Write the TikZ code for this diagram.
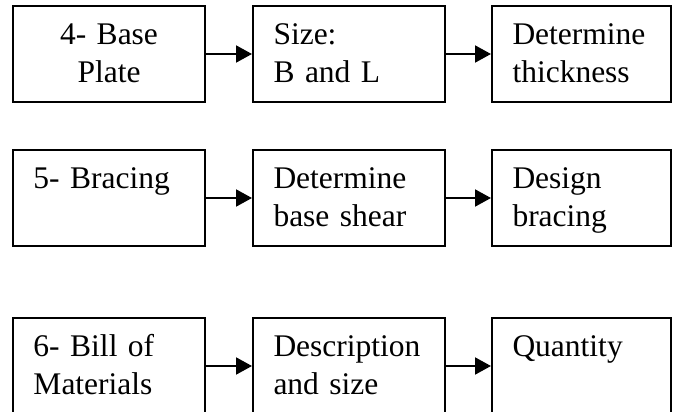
\documentclass[tikz,border=0pt]{standalone}
\usepackage{fontspec}
\setmainfont{Liberation Serif}
\usetikzlibrary{arrows.meta}
\newcommand\tstrut{\rule{0pt}{28.5pt}}
\newcommand\bstrut{\rule[-9.5pt]{0pt}{9.5pt}}
\tikzset{
  box/.style={draw, line width=2pt, rectangle, anchor=north west,
    inner xsep=20.5pt, inner ysep=10pt, text width=151pt, align=left,
    font=\fontsize{31.5}{38}\selectfont},
  narrow/.style={text width=138pt},
  conn/.style={line width=2pt, -{Triangle[length=16pt,width=17pt]}}
}
\begin{document}
\begin{tikzpicture}[x=1pt,y=-1pt]
\useasboundingbox (0,0) rectangle (673,412);
\clip (0,0) rectangle (673,412);
% row 1
\node[box, align=center] (a1) at (12,5) {\tstrut 4- Base\\ Plate\bstrut};
\node[box] (a2) at (252,5) {\tstrut Size:\\ B and L\bstrut};
\node[box, narrow] (a3) at (491,5) {\tstrut Determine\\ thickness\bstrut};
% row 2
\node[box] (b1) at (12,149) {\tstrut 5- Bracing\\ \bstrut};
\node[box] (b2) at (252,149) {\tstrut Determine\\ base shear\bstrut};
\node[box, narrow] (b3) at (491,149) {\tstrut Design\\ bracing\bstrut};
% row 3
\node[box] (c1) at (12,317) {\tstrut 6- Bill of\\ Materials\bstrut};
\node[box] (c2) at (252,317) {\tstrut Description\\ and size\bstrut};
\node[box, narrow] (c3) at (491,317) {\tstrut Quantity\\ \bstrut};
\draw[conn] (a1) -- (a2);
\draw[conn] (a2) -- (a3);
\draw[conn] (b1) -- (b2);
\draw[conn] (b2) -- (b3);
\draw[conn] (c1) -- (c2);
\draw[conn] (c2) -- (c3);
\end{tikzpicture}
\end{document}
